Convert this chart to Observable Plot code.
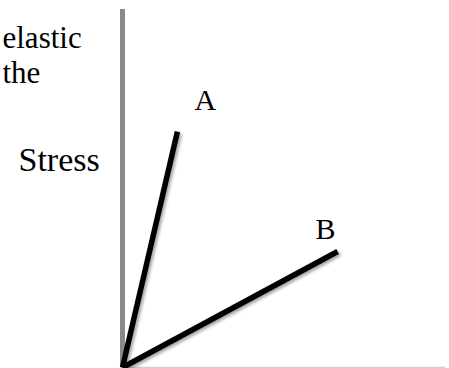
<!DOCTYPE html>
<html>
<head>
<meta charset="utf-8">
<script src="https://cdn.jsdelivr.net/npm/d3@7"></script>
<script src="https://cdn.jsdelivr.net/npm/@observablehq/plot@0.6"></script>
<style>
  html, body { margin: 0; padding: 0; background: #fff; }
  #chart { width: 449px; height: 368px; overflow: hidden; }
</style>
</head>
<body>
<div id="chart"></div>
<script>
// Data
const series = ["A", "B"];
const endStrain = [1.7, 6.66];
const endStress = [6.59, 3.24];
const introLines = ["elastic", "the"];
const yLabel = "Stress";

const lines = series.flatMap((s, i) => [
  {series: s, strain: 0, stress: 0},
  {series: s, strain: endStrain[i], stress: endStress[i]}
]);
const ends = series.map((s, i) => ({series: s, strain: endStrain[i], stress: endStress[i]}));

const serif = "Liberation Serif, Times New Roman, serif";

const chart = Plot.plot({
  width: 449,
  height: 368,
  marginLeft: 122,
  marginRight: 4,
  marginTop: 9,
  marginBottom: 1,
  x: {domain: [0, 10], axis: null},
  y: {domain: [0, 10], axis: null},
  style: {background: "#fff", overflow: "visible"},
  marks: [
    Plot.ruleY([0], {stroke: "#cfcfcf", strokeWidth: 1.5}),
    Plot.ruleX([0], {stroke: "#8a8a8a", strokeWidth: 5}),
    Plot.line(lines, {x: "strain", y: "stress", z: "series", stroke: "#000", strokeWidth: 5.5, strokeLinecap: "butt"}),
    Plot.text(ends.filter(d => d.series === "A"), {x: "strain", y: "stress", text: "series", dx: 28, dy: -22, lineAnchor: "bottom", textAnchor: "middle", fontSize: 30, fontFamily: serif, fill: "#000"}),
    Plot.text(ends.filter(d => d.series === "B"), {x: "strain", y: "stress", text: "series", dx: -12, dy: -13, lineAnchor: "bottom", textAnchor: "middle", fontSize: 30, fontFamily: serif, fill: "#000"}),
    Plot.text([yLabel], {frameAnchor: "top-left", text: d => d, dx: -104, dy: 161, lineAnchor: "bottom", textAnchor: "start", fontSize: 34, fontFamily: serif, fill: "#000"}),
    Plot.text([introLines[0]], {frameAnchor: "top-left", text: d => d, dx: -120, dy: 38, lineAnchor: "bottom", textAnchor: "start", fontSize: 31, fontFamily: serif, fill: "#000"}),
    Plot.text([introLines[1]], {frameAnchor: "top-left", text: d => d, dx: -120, dy: 73, lineAnchor: "bottom", textAnchor: "start", fontSize: 31, fontFamily: serif, fill: "#000"})
  ]
});

// subtle drop shadow on the stress lines
const ns = "http://www.w3.org/2000/svg";
const defs = document.createElementNS(ns, "defs");
defs.innerHTML = '<filter id="shadow" x="-20%" y="-20%" width="140%" height="140%"><feDropShadow dx="2" dy="2" stdDeviation="1.5" flood-color="#000" flood-opacity="0.35"/></filter>';
chart.insertBefore(defs, chart.firstChild);
chart.querySelectorAll('[aria-label="line"]').forEach(g => g.setAttribute("filter", "url(#shadow)"));

document.getElementById("chart").appendChild(chart);
</script>
</body>
</html>
